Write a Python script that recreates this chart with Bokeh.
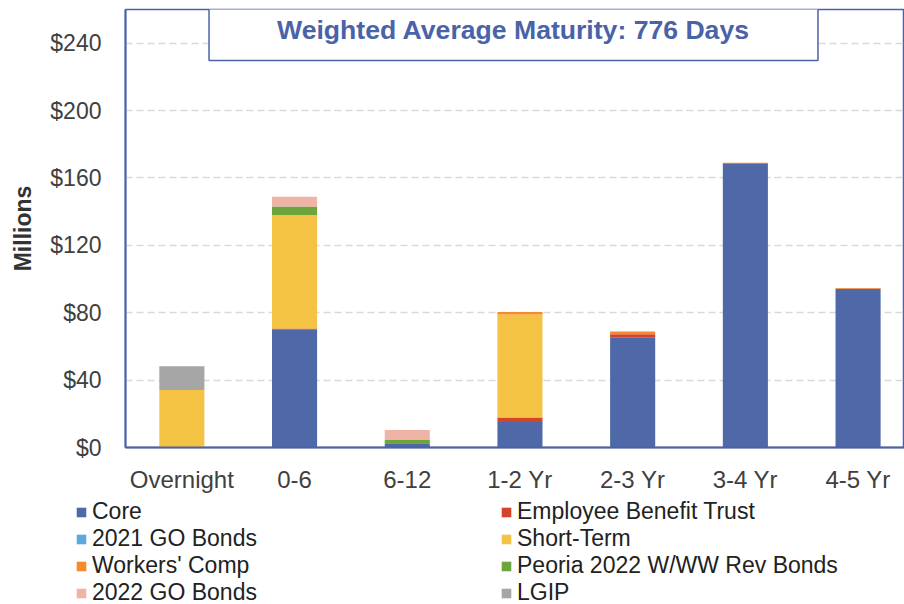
from bokeh.plotting import figure
from bokeh.layouts import column
from bokeh.models import (ColumnDataSource, Range1d, FixedTicker, Legend, LegendItem, Label)
from bokeh.embed import file_html
from bokeh.resources import INLINE

# ---- data (millions) ----
categories = ["Overnight", "0-6", "6-12", "1-2 Yr", "2-3 Yr", "3-4 Yr", "4-5 Yr"]
core       = [0.0, 70.2, 2.5, 15.1, 65.1, 168.7, 94.2]
ebt        = [0.0, 0.4, 0.0, 2.7, 2.1, 0.0, 0.0]
go2021     = [0.0, 0.0, 0.0, 0.0, 0.0, 0.0, 0.0]
short_term = [34.1, 67.4, 0.0, 61.2, 0.0, 0.0, 0.0]
workers    = [0.0, 0.0, 0.0, 1.4, 1.6, 0.4, 0.5]
peoria     = [0.0, 5.0, 2.0, 0.0, 0.0, 0.0, 0.0]
go2022     = [0.0, 5.8, 5.9, 0.0, 0.0, 0.0, 0.0]
lgip       = [14.1, 0.0, 0.0, 0.0, 0.0, 0.0, 0.0]

series_names = ["Core", "Employee Benefit Trust", "2021 GO Bonds", "Short-Term",
                "Workers' Comp", "Peoria 2022 W/WW Rev Bonds", "2022 GO Bonds", "LGIP"]
series_keys = ["core", "ebt", "go2021", "st", "wc", "peoria", "go2022", "lgip"]
series_vals = [core, ebt, go2021, short_term, workers, peoria, go2022, lgip]
colors = ["#4F68A8", "#D2452B", "#5BA9DE", "#F4C343", "#F58B2B", "#6EA43C", "#F0B4A6", "#A6A6A6"]

y_ticks = [0, 40, 80, 120, 160, 200, 240]
y_tick_labels = ["$0", "$40", "$80", "$120", "$160", "$200", "$240"]
title_text = "Weighted Average Maturity: 776 Days"

BLUE = "#4A63A8"
TXT = "#404040"
FONT = "Liberation Sans"

data = {"x": list(range(len(categories)))}
for k, v in zip(series_keys, series_vals):
    data[k] = v
source = ColumnDataSource(data)

p = figure(width=904, height=495, x_range=Range1d(-0.5, 6.412), y_range=Range1d(0, 260),
           output_backend="svg", toolbar_location=None,
           min_border_left=125, min_border_right=0, min_border_top=9, min_border_bottom=44)
p.frame_align = False

renderers = p.vbar_stack(series_keys, x="x", width=0.4, source=source,
                         fill_color=colors, line_color=None)

# axes
p.xaxis.ticker = FixedTicker(ticks=list(range(len(categories))))
p.xaxis.major_label_overrides = {i: c for i, c in enumerate(categories)}
p.yaxis.ticker = FixedTicker(ticks=y_ticks)
p.yaxis.major_label_overrides = {t: l for t, l in zip(y_ticks, y_tick_labels)}

for ax in (p.xaxis, p.yaxis):
    ax.axis_line_color = BLUE
    ax.axis_line_width = 2
    ax.major_tick_line_color = None
    ax.minor_tick_line_color = None
    ax.major_label_text_font = FONT
    ax.major_label_text_color = TXT

p.xaxis.major_label_text_font_size = "24px"
p.yaxis.major_label_text_font_size = "23px"
p.xaxis.major_label_standoff = 12
p.yaxis.major_label_standoff = 18
p.yaxis.axis_label = "Millions"
p.yaxis.axis_label_text_font = FONT
p.yaxis.axis_label_text_font_style = "bold"
p.yaxis.axis_label_text_font_size = "23px"
p.yaxis.axis_label_text_color = "#333333"
p.yaxis.axis_label_standoff = 11

p.xgrid.grid_line_color = None
p.ygrid.grid_line_color = "#D9D9D9"
p.ygrid.grid_line_dash = "7 4"
p.ygrid.grid_line_width = 1.5

p.outline_line_color = BLUE
p.outline_line_width = 1.5
p.background_fill_color = "white"
p.border_fill_color = "white"

# title box
title = Label(x=388, y=418, x_units="screen", y_units="screen", text=title_text,
              text_align="center", text_baseline="middle",
              text_font=FONT, text_font_style="bold", text_font_size="26.6px",
              text_color=BLUE, background_fill_color="white",
              border_line_color=BLUE, border_line_width=1.5,
              padding=(68, 16))
p.add_layout(title)

# ---- legend strip below the chart ----
lp = figure(width=904, height=109, x_range=Range1d(0, 1), y_range=Range1d(0, 1),
            output_backend="svg", toolbar_location=None,
            x_axis_location=None, y_axis_location=None,
            min_border_left=0, min_border_right=0, min_border_top=0, min_border_bottom=0)
lp.frame_align = False
lp.grid.visible = False
lp.outline_line_color = None
# placeholder source (one row outside the visible range) so legend swatches draw
swatch_src = ColumnDataSource({k: [-10] if k == "x" else [0] for k in ["x"] + series_keys})
legend_renderers = lp.vbar_stack(series_keys, x="x", width=0.4, source=swatch_src,
                                 fill_color=colors, line_color=None)

legend = Legend(items=[LegendItem(label=n, renderers=[r]) for n, r in zip(series_names, legend_renderers)],
                orientation="horizontal", ncols=2, location=(75, -2),
                glyph_width=12, glyph_height=12, label_standoff=5,
                label_width=408, label_height=22, spacing=0,
                padding=0, margin=0, border_line_color=None, background_fill_alpha=0,
                label_text_font=FONT, label_text_font_size="23px", label_text_color="#222222")
lp.add_layout(legend, "center")

layout = column(p, lp, spacing=0)
open("out.html", "w").write(file_html(layout, INLINE))
